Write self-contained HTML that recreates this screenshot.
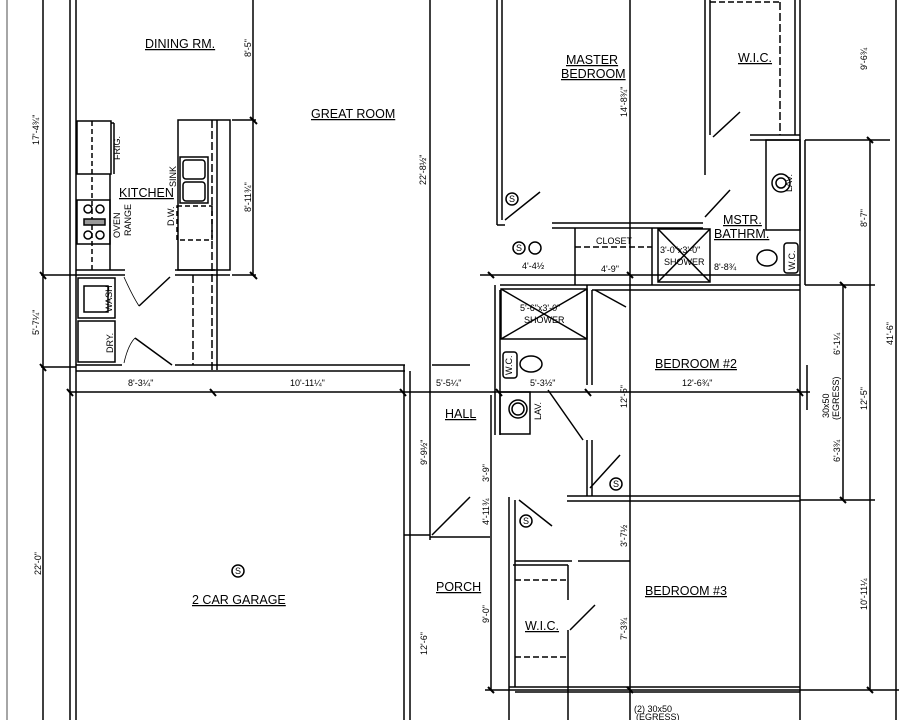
<!DOCTYPE html>
<html><head><meta charset="utf-8"><style>
html,body{margin:0;padding:0;background:#fff}
svg{display:block}
text{font-family:"Liberation Sans",sans-serif;fill:#000}
.l{font-size:12.5px;text-decoration:underline}
.d{font-size:9px}
</style></head><body>
<svg width="899" height="720" viewBox="0 0 899 720" xmlns="http://www.w3.org/2000/svg">
<g stroke="#000" stroke-width="1.5" fill="none">
<line x1="7" y1="0" x2="7" y2="720" stroke="#888"/>
<line x1="43" y1="0" x2="43" y2="720"/>
<line x1="70" y1="0" x2="70" y2="720"/>
<line x1="76" y1="0" x2="76" y2="720"/>
<line x1="41" y1="275" x2="76" y2="275"/>
<line x1="41" y1="367" x2="76" y2="367"/>
<rect x="77" y="121" width="34" height="53"/>
<line x1="111" y1="123" x2="114" y2="123"/><line x1="114" y1="123" x2="114" y2="174"/>
<line x1="92" y1="121" x2="92" y2="270" stroke-dasharray="5,3"/>
<line x1="110" y1="174" x2="110" y2="270"/>
<rect x="77" y="200" width="33" height="44"/>
<circle cx="88" cy="209" r="4"/><circle cx="100" cy="209" r="4"/><circle cx="88" cy="235" r="4"/><circle cx="100" cy="235" r="4"/>
<rect x="84" y="219" width="21" height="6" fill="#999"/>
<rect x="178" y="120" width="52" height="150"/>
<line x1="212" y1="120" x2="212" y2="370" stroke-dasharray="8,3"/>
<line x1="217" y1="120" x2="217" y2="370"/>
<rect x="180" y="157" width="28" height="46"/>
<rect x="183" y="160" width="22" height="19" rx="3"/><rect x="183" y="182" width="22" height="19" rx="3"/>
<rect x="177" y="206" width="35" height="34" stroke-dasharray="5,3"/>
<line x1="253" y1="0" x2="253" y2="275"/>
<line x1="232" y1="120" x2="256" y2="120"/><line x1="232" y1="275" x2="256" y2="275"/>
<line x1="76" y1="270" x2="125" y2="270"/><line x1="76" y1="275" x2="125" y2="275"/>
<line x1="175" y1="270" x2="215" y2="270"/><line x1="175" y1="275" x2="215" y2="275"/>
<line x1="230" y1="275" x2="215" y2="275"/>
<rect x="78" y="278" width="37" height="40"/><rect x="84" y="286" width="24" height="26"/>
<rect x="78" y="321" width="37" height="41"/>
<line x1="193" y1="275" x2="193" y2="365" stroke-dasharray="8,3"/>
<line x1="139" y1="306" x2="170" y2="277"/><line x1="135" y1="338" x2="172" y2="365"/>
<path d="M124 277 Q132 295 139 306" stroke-width="0.8"/><path d="M124 363 Q128 345 135 338" stroke-width="0.8"/>
<line x1="76" y1="365" x2="122" y2="365"/><line x1="76" y1="371" x2="405" y2="371"/>
<line x1="175" y1="365" x2="405" y2="365"/>
<line x1="404" y1="365" x2="404" y2="720"/><line x1="410" y1="371" x2="410" y2="720"/>
<line x1="70" y1="392" x2="810" y2="392"/>
<line x1="430" y1="0" x2="430" y2="540"/>
<line x1="432" y1="365" x2="470" y2="365"/>
<line x1="497" y1="0" x2="497" y2="225"/><line x1="502" y1="0" x2="502" y2="220"/>
<line x1="497" y1="225" x2="505" y2="225"/>
<line x1="552" y1="223" x2="703" y2="223"/><line x1="552" y1="228" x2="703" y2="228"/>
<line x1="505" y1="220" x2="540" y2="192"/>
<line x1="630" y1="0" x2="630" y2="720"/>
<line x1="705" y1="0" x2="705" y2="175"/><line x1="710" y1="0" x2="710" y2="135"/>
<line x1="710" y1="2" x2="780" y2="2" stroke-dasharray="6,3"/>
<line x1="780" y1="2" x2="780" y2="135" stroke-dasharray="8,3"/>
<line x1="750" y1="135" x2="800" y2="135"/><line x1="750" y1="140" x2="800" y2="140"/>
<line x1="713" y1="137" x2="740" y2="112"/>
<line x1="795" y1="0" x2="795" y2="135"/>
<line x1="800" y1="0" x2="800" y2="720"/><line x1="805" y1="140" x2="805" y2="285"/>
<line x1="805" y1="140" x2="890" y2="140"/>
<rect x="766" y="140" width="34" height="90"/>
<ellipse cx="781" cy="183" rx="9" ry="9"/><circle cx="781" cy="183" r="5"/>
<ellipse cx="767" cy="258" rx="10" ry="8"/>
<rect x="784" y="243" width="14" height="30" rx="3"/>
<line x1="705" y1="217" x2="730" y2="190"/>
<line x1="575" y1="228" x2="575" y2="285"/><line x1="652" y1="228" x2="652" y2="285"/>
<line x1="575" y1="247" x2="652" y2="247" stroke-dasharray="6,3"/>
<rect x="658" y="229" width="52" height="53"/>
<line x1="658" y1="229" x2="710" y2="282"/><line x1="710" y1="229" x2="658" y2="282"/>
<line x1="480" y1="275" x2="800" y2="275"/>
<line x1="500" y1="285" x2="800" y2="285"/><line x1="592" y1="290" x2="800" y2="290"/>
<line x1="495" y1="285" x2="495" y2="435"/><line x1="500" y1="290" x2="500" y2="435"/>
<rect x="501" y="289" width="86" height="50"/>
<line x1="501" y1="289" x2="587" y2="339"/><line x1="587" y1="289" x2="501" y2="339"/>
<line x1="587" y1="285" x2="587" y2="385"/><line x1="592" y1="290" x2="592" y2="385"/>
<ellipse cx="531" cy="364" rx="11" ry="8"/><rect x="503" y="352" width="14" height="26" rx="3"/>
<rect x="500" y="392" width="30" height="42"/><circle cx="518" cy="409" r="9"/><circle cx="518" cy="409" r="6"/>
<line x1="595" y1="290" x2="626" y2="307"/>
<line x1="548" y1="390" x2="583" y2="440"/>
<line x1="587" y1="440" x2="587" y2="496"/><line x1="592" y1="440" x2="592" y2="496"/>
<line x1="567" y1="496" x2="800" y2="496"/><line x1="567" y1="501" x2="800" y2="501"/>
<line x1="590" y1="488" x2="620" y2="455"/>
<line x1="807" y1="365" x2="807" y2="410"/>
<line x1="509" y1="497" x2="509" y2="720"/><line x1="515" y1="500" x2="515" y2="687"/>
<line x1="430" y1="537" x2="490" y2="537"/><line x1="404" y1="535" x2="430" y2="535"/>
<line x1="432" y1="535" x2="470" y2="497"/>
<line x1="519" y1="500" x2="552" y2="526"/>
<line x1="515" y1="561" x2="572" y2="561"/>
<line x1="513" y1="565" x2="568" y2="565"/><line x1="568" y1="565" x2="568" y2="600"/>
<line x1="568" y1="630" x2="568" y2="720"/>
<line x1="515" y1="580" x2="568" y2="580" stroke-dasharray="6,3"/>
<line x1="515" y1="657" x2="568" y2="657" stroke-dasharray="6,3"/>
<line x1="570" y1="630" x2="595" y2="605"/>
<line x1="578" y1="561" x2="630" y2="561"/>
<line x1="509" y1="687" x2="800" y2="687"/><line x1="515" y1="692" x2="800" y2="692"/>
<line x1="485" y1="690" x2="899" y2="690"/>
<line x1="491" y1="395" x2="491" y2="690"/>
<line x1="843" y1="285" x2="843" y2="500"/>
<line x1="870" y1="140" x2="870" y2="690"/>
<line x1="896" y1="0" x2="896" y2="720"/>
<line x1="805" y1="285" x2="875" y2="285"/><line x1="800" y1="500" x2="875" y2="500"/>
<circle cx="512" cy="199" r="6"/><circle cx="519" cy="248" r="6"/><circle cx="535" cy="248" r="6"/>
<circle cx="616" cy="484" r="6"/><circle cx="526" cy="521" r="6"/><circle cx="238" cy="571" r="6"/>
</g>
<g stroke="#000" stroke-width="2">
<line x1="250" y1="117" x2="257" y2="124"/><line x1="250" y1="272" x2="257" y2="279"/>
<line x1="40" y1="272" x2="46" y2="279"/><line x1="40" y1="364" x2="46" y2="371"/>
<line x1="67" y1="389" x2="73" y2="396"/><line x1="210" y1="389" x2="216" y2="396"/>
<line x1="400" y1="389" x2="406" y2="396"/><line x1="496" y1="389" x2="502" y2="396"/>
<line x1="585" y1="389" x2="591" y2="396"/><line x1="797" y1="389" x2="803" y2="396"/>
<line x1="867" y1="137" x2="873" y2="143"/><line x1="840" y1="282" x2="846" y2="288"/>
<line x1="840" y1="497" x2="846" y2="503"/><line x1="867" y1="687" x2="873" y2="693"/>
<line x1="488" y1="272" x2="494" y2="278"/><line x1="627" y1="272" x2="633" y2="278"/>
<line x1="488" y1="687" x2="494" y2="693"/><line x1="627" y1="687" x2="633" y2="693"/>
</g>
<g>
<text class="l" x="145" y="48">DINING RM.</text>
<text class="l" x="311" y="118">GREAT ROOM</text>
<text class="l" x="119" y="197">KITCHEN</text>
<text class="l" x="566" y="64">MASTER</text>
<text class="l" x="561" y="78">BEDROOM</text>
<text class="l" x="738" y="62">W.I.C.</text>
<text class="l" x="723" y="224">MSTR.</text>
<text class="l" x="714" y="238">BATHRM.</text>
<text class="l" x="655" y="368">BEDROOM #2</text>
<text class="l" x="445" y="418">HALL</text>
<text class="l" x="436" y="591">PORCH</text>
<text class="l" x="525" y="630">W.I.C.</text>
<text class="l" x="645" y="595">BEDROOM #3</text>
<text class="l" x="192" y="604">2 CAR GARAGE</text>
<text class="d" x="596" y="244">CLOSET</text>
<text class="d" x="660" y="253">3'-0"x3'-0"</text><text class="d" x="664" y="265">SHOWER</text>
<text class="d" x="520" y="311">5'-6"x3'-0"</text><text class="d" x="524" y="323">SHOWER</text>
<text class="d" x="128" y="386">8'-3¼"</text><text class="d" x="290" y="386">10'-11¼"</text>
<text class="d" x="436" y="386">5'-5¼"</text><text class="d" x="530" y="386">5'-3½"</text>
<text class="d" x="682" y="386">12'-6¾"</text>
<text class="d" x="522" y="269">4'-4½</text><text class="d" x="601" y="272">4'-9"</text><text class="d" x="714" y="270">8'-8¾</text>
<text class="d" x="634" y="712">(2) 30x50</text><text class="d" x="636" y="720">(EGRESS)</text>
<text class="d" transform="translate(120,160) rotate(-90)">FRIG.</text>
<text class="d" transform="translate(120,238) rotate(-90)">OVEN</text>
<text class="d" transform="translate(131,236) rotate(-90)">RANGE</text>
<text class="d" transform="translate(176,187) rotate(-90)">SINK</text>
<text class="d" transform="translate(174,226) rotate(-90)">D.W.</text>
<text class="d" transform="translate(112,312) rotate(-90)">WASH</text>
<text class="d" transform="translate(113,353) rotate(-90)">DRY.</text>
<text class="d" transform="translate(39,145) rotate(-90)">17'-4¾"</text>
<text class="d" transform="translate(39,335) rotate(-90)">5'-7¼"</text>
<text class="d" transform="translate(41,575) rotate(-90)">22'-0"</text>
<text class="d" transform="translate(251,57) rotate(-90)">8'-5"</text>
<text class="d" transform="translate(251,212) rotate(-90)">8'-11¾"</text>
<text class="d" transform="translate(426,185) rotate(-90)">22'-8½"</text>
<text class="d" transform="translate(427,465) rotate(-90)">9'-9½"</text>
<text class="d" transform="translate(427,655) rotate(-90)">12'-6"</text>
<text class="d" transform="translate(489,482) rotate(-90)">3'-9"</text>
<text class="d" transform="translate(489,525) rotate(-90)">4'-11¾</text>
<text class="d" transform="translate(489,623) rotate(-90)">9'-0"</text>
<text class="d" transform="translate(627,117) rotate(-90)">14'-8¾"</text>
<text class="d" transform="translate(627,408) rotate(-90)">12'-5"</text>
<text class="d" transform="translate(627,547) rotate(-90)">3'-7½</text>
<text class="d" transform="translate(627,640) rotate(-90)">7'-3¾</text>
<text class="d" transform="translate(867,70) rotate(-90)">9'-6¾</text>
<text class="d" transform="translate(867,227) rotate(-90)">8'-7"</text>
<text class="d" transform="translate(840,355) rotate(-90)">6'-1¼</text>
<text class="d" transform="translate(840,462) rotate(-90)">6'-3¾</text>
<text class="d" transform="translate(867,410) rotate(-90)">12'-5"</text>
<text class="d" transform="translate(867,610) rotate(-90)">10'-11¼</text>
<text class="d" transform="translate(893,345) rotate(-90)">41'-6"</text>
<text class="d" transform="translate(829,418) rotate(-90)">30x50</text>
<text class="d" transform="translate(839,420) rotate(-90)">(EGRESS)</text>
<text class="d" transform="translate(792,192) rotate(-90)">LAV.</text>
<text class="d" transform="translate(795,270) rotate(-90)">W.C.</text>
<text class="d" transform="translate(512,375) rotate(-90)">W.C.</text>
<text class="d" transform="translate(541,420) rotate(-90)">LAV.</text>
<text class="d" x="509" y="202" font-size="7">S</text><text class="d" x="516" y="251" font-size="7">S</text>
<text class="d" x="613" y="487" font-size="7">S</text><text class="d" x="523" y="524" font-size="7">S</text>
<text class="d" x="235" y="574" font-size="7">S</text>
</g>
</svg>
</body></html>
